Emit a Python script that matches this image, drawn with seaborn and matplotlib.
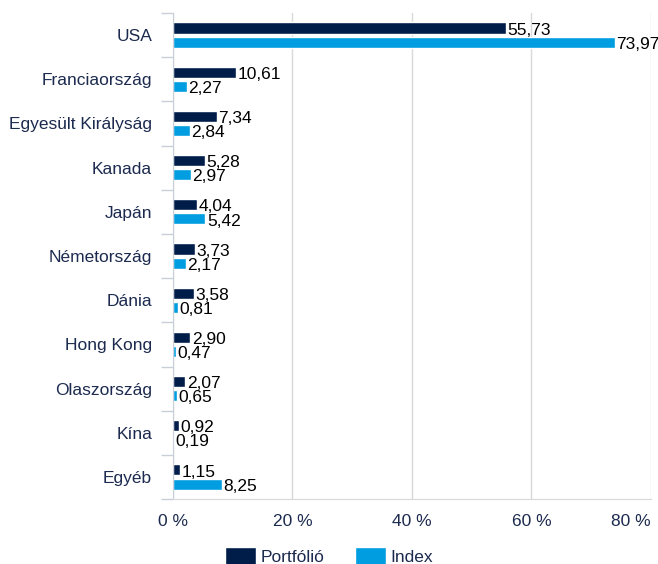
import pandas as pd
import numpy as np
import matplotlib.pyplot as plt
import seaborn as sns
from matplotlib.ticker import FixedLocator

# adatok
orszagok = ['USA', 'Franciaország', 'Egyesült Királyság', 'Kanada', 'Japán', 'Németország',
            'Dánia', 'Hong Kong', 'Olaszország', 'Kína', 'Egyéb']
portfolio = [55.73, 10.61, 7.34, 5.28, 4.04, 3.73, 3.58, 2.90, 2.07, 0.92, 1.15]
index = [73.97, 2.27, 2.84, 2.97, 5.42, 2.17, 0.81, 0.47, 0.65, 0.19, 8.25]
sorozatok = ['Portfólió', 'Index']
szinek = ['#001d4a', '#009de0']
x_ticks = [0, 20, 40, 60, 80]

df = pd.DataFrame({
    'orszag': orszagok * 2,
    'ertek': portfolio + index,
    'sorozat': [sorozatok[0]] * len(orszagok) + [sorozatok[1]] * len(orszagok),
})

sns.set_style('white')
plt.rcParams['font.family'] = ['Liberation Sans', 'DejaVu Sans']
navy = '#1b2a4e'
fs = 12.5

fig = plt.figure(figsize=(6.58, 5.64), dpi=100)
ax = fig.add_axes([0.263, 0.115, 0.726, 0.862])

sns.barplot(data=df, y='orszag', x='ertek', hue='sorozat', palette=szinek,
            orient='h', width=0.64, gap=0.22, ax=ax, legend=True, saturation=1)

ax.set_xlim(0, 80)
ax.set_ylim(len(orszagok) - 0.5, -0.5)
ax.set_xticks(x_ticks)
ax.set_xticklabels([f'{t} %' for t in x_ticks], color=navy, fontsize=fs)
ax.get_xticklabels()[-1].set_horizontalalignment('right')
ax.tick_params(axis='x', length=0, pad=11)
ax.set_yticklabels(orszagok, color=navy, fontsize=fs)
ax.tick_params(axis='y', which='major', left=False, length=0, pad=15)
ax.yaxis.set_minor_locator(FixedLocator(np.arange(-0.5, len(orszagok), 1)))
ax.tick_params(axis='y', which='minor', left=True, length=9, color='#c8cfd8', width=1)
ax.set_xlabel('')
ax.set_ylabel('')
ax.grid(axis='x', color='#d9d9d9', linewidth=1)
ax.set_axisbelow(True)
for s in ['top', 'right']:
    ax.spines[s].set_visible(False)
ax.spines['left'].set_color('#c8cfd8')
ax.spines['bottom'].set_color('#d9d9d9')

for cont in ax.containers:
    cimkek = ax.bar_label(cont, labels=[f'{v:.2f}'.replace('.', ',') for v in cont.datavalues],
                          padding=1, fontsize=fs, color='black')
    for c in cimkek:
        c.xyann = (1, -1.5)  # kicsit lejjebb, mint az eredetin

h, l = ax.get_legend_handles_labels()
ax.get_legend().remove()
fig.legend(h, l, loc='lower center', bbox_to_anchor=(0.5, -0.03), ncol=2, frameon=False,
           fontsize=fs, handlelength=1.75, handleheight=1.2, handletextpad=0.25,
           columnspacing=1.8, labelcolor=navy)

fig.savefig('out.png', dpi=100)
